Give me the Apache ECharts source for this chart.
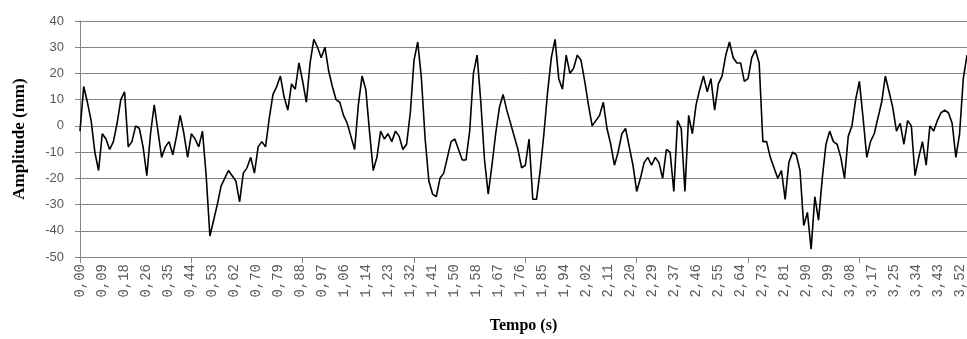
<!DOCTYPE html>
<html>
<head>
<meta charset="utf-8">
<script src="https://cdn.jsdelivr.net/npm/echarts@6/dist/echarts.min.js"></script>
<style>
  html, body { margin: 0; padding: 0; background: #fff; }
  #chart { width: 967px; height: 339px; }
</style>
</head>
<body>
<div id="chart"></div>
<script>
// amplitude (mm), one sample every ~3.7 px
var amplitude = [
  -2, 15, 9, 2, -10, -17, -3, -5, -9, -6, 1, 10, 13, -8, -6, 0, -1, -8, -19, -3,
  8, -2, -12, -8, -6, -11, -4, 4, -3, -12, -3, -5, -8, -2, -19, -42, -36, -30, -23, -20,
  -17, -19, -21, -29, -18, -16, -12, -18, -8, -6, -8, 3, 12, 15, 19, 11, 6, 16, 14, 24,
  17, 9, 24, 33, 30, 26, 30, 21, 15, 10, 9, 4, 1, -4, -9, 8, 19, 14, -2, -17,
  -12, -2, -5, -3, -6, -2, -4, -9, -7, 5, 25, 32, 18, -5, -21, -26, -27, -20, -18, -12,
  -6, -5, -9, -13, -13, -2, 20, 27, 9, -13, -26, -15, -3, 7, 12, 6, 1, -4, -9, -16,
  -15, -5, -28, -28, -17, -3, 13, 26, 33, 18, 14, 27, 20, 22, 27, 25, 17, 8, 0, 2,
  4, 9, -1, -7, -15, -10, -3, -1, -8, -15, -25, -20, -14, -12, -15, -12, -14, -20, -9, -10,
  -25, 2, -1, -25, 4, -3, 8, 14, 19, 13, 18, 6, 16, 19, 27, 32, 26, 24, 24, 17,
  18, 26, 29, 24, -6, -6, -12, -16, -20, -17, -28, -14, -10, -11, -17, -38, -33, -47, -27, -36,
  -20, -7, -2, -6, -7, -12, -20, -4, 0, 10, 17, 3, -12, -6, -3, 3, 9, 19, 13, 7,
  -2, 1, -7, 2, 0, -19, -12, -6, -15, 0, -2, 2, 5, 6, 5, 1, -12, -3, 18, 27
];
var samples = amplitude.map(function (v, i) { return i; });

var timeLabels = [
  '0,00', '0,09', '0,18', '0,26', '0,35', '0,44', '0,53', '0,62', '0,70', '0,79',
  '0,88', '0,97', '1,06', '1,14', '1,23', '1,32', '1,41', '1,50', '1,58', '1,67',
  '1,76', '1,85', '1,94', '2,02', '2,11', '2,20', '2,29', '2,37', '2,46', '2,55',
  '2,64', '2,73', '2,81', '2,90', '2,99', '3,08', '3,17', '3,25', '3,34', '3,43', '3,52'
];

var gray = '#868686';
var txt = '#595959';

var chart = echarts.init(document.getElementById('chart'));
chart.setOption({
  animation: false,
  grid: { left: 80, right: -1, top: 21, bottom: 81 },
  xAxis: [{
    type: 'category',
    data: samples,
    boundaryGap: false,
    axisLine: { onZero: false, lineStyle: { color: gray } },
    axisTick: {
      length: 6,
      interval: function (i) { return i % 30 === 0; },
      lineStyle: { color: gray }
    },
    axisLabel: { show: false },
    splitLine: { show: false }
  }, {
    // label axis: 41 tick labels spaced ~22 px
    type: 'value',
    position: 'bottom',
    min: 0,
    max: 40.32,
    interval: 1,
    axisLine: { show: false, onZero: false },
    axisTick: { show: false },
    splitLine: { show: false },
    axisLabel: {
      rotate: 90,
      margin: 7,
      color: txt,
      fontSize: 14,
      fontFamily: 'Liberation Mono',
      showMaxLabel: true,
      formatter: function (v) {
        return Number.isInteger(v) && timeLabels[v] ? timeLabels[v] : '';
      }
    },
    name: 'Tempo (s)',
    nameLocation: 'middle',
    nameGap: 61,
    nameTextStyle: {
      fontFamily: 'Liberation Serif',
      fontWeight: 'bold',
      fontSize: 16,
      color: '#000'
    }
  }],
  yAxis: {
    type: 'value',
    min: -50,
    max: 40,
    interval: 10,
    axisLine: { show: true, lineStyle: { color: gray } },
    axisTick: { show: true, length: 5, lineStyle: { color: gray } },
    axisLabel: {
      margin: 16,
      color: txt,
      fontSize: 13,
      fontFamily: 'Liberation Sans'
    },
    splitLine: { lineStyle: { color: gray, width: 1 } },
    name: 'Amplitude (mm)',
    nameLocation: 'middle',
    nameGap: 52,
    nameTextStyle: {
      fontFamily: 'Liberation Serif',
      fontWeight: 'bold',
      fontSize: 17,
      color: '#000'
    }
  },
  series: [{
    type: 'line',
    xAxisIndex: 0,
    data: amplitude,
    showSymbol: false,
    lineStyle: { color: '#000', width: 1.6 }
  }]
});
</script>
</body>
</html>
